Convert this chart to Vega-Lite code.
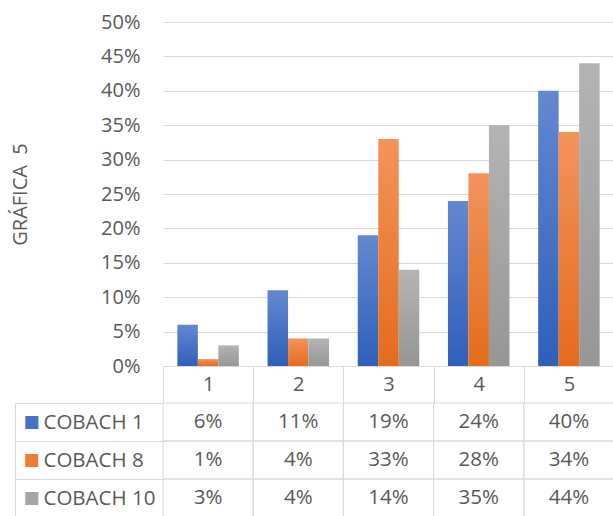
{
  "$schema": "https://vega.github.io/schema/vega-lite/v6.json",
  "padding": {"left": 10, "top": 12, "right": 0, "bottom": 0},
  "background": "white",
  "bounds": "flush",
  "spacing": 37,
  "config": {"view": {"stroke": null}, "font": "Open Sans"},
  "datasets": {
    "d": [
      {"cat": "1", "series": "COBACH 1", "value": 0.06},
      {"cat": "2", "series": "COBACH 1", "value": 0.11},
      {"cat": "3", "series": "COBACH 1", "value": 0.19},
      {"cat": "4", "series": "COBACH 1", "value": 0.24},
      {"cat": "5", "series": "COBACH 1", "value": 0.40},
      {"cat": "1", "series": "COBACH 8", "value": 0.01},
      {"cat": "2", "series": "COBACH 8", "value": 0.04},
      {"cat": "3", "series": "COBACH 8", "value": 0.33},
      {"cat": "4", "series": "COBACH 8", "value": 0.28},
      {"cat": "5", "series": "COBACH 8", "value": 0.34},
      {"cat": "1", "series": "COBACH 10", "value": 0.03},
      {"cat": "2", "series": "COBACH 10", "value": 0.04},
      {"cat": "3", "series": "COBACH 10", "value": 0.14},
      {"cat": "4", "series": "COBACH 10", "value": 0.35},
      {"cat": "5", "series": "COBACH 10", "value": 0.44}
    ]
  },
  "vconcat": [
    {
      "width": 451,
      "height": 344,
      "data": {"name": "d"},
      "encoding": {
        "x": {
          "field": "cat", "type": "nominal",
          "scale": {"paddingInner": 0, "paddingOuter": 0},
          "axis": {
            "orient": "bottom", "domain": true, "domainColor": "#d9d9d9",
            "ticks": true, "tickBand": "extent", "tickSize": 37, "tickColor": "#d9d9d9",
            "labelAngle": 0, "labelPadding": -19, "labelBaseline": "middle",
            "labelFontSize": 20, "labelColor": "#595959", "title": null, "grid": false
          }
        },
        "xOffset": {"field": "series", "type": "nominal", "scale": {"domain": ["COBACH 1", "COBACH 8", "COBACH 10"], "paddingInner": 0, "paddingOuter": 0.7}},
        "y": {
          "field": "value", "type": "quantitative",
          "scale": {"domain": [0, 0.5], "nice": false},
          "axis": {
            "orient": "left", "domain": false, "ticks": false, "grid": true, "gridColor": "#d9d9d9",
            "values": [0, 0.05, 0.1, 0.15, 0.2, 0.25, 0.3, 0.35, 0.4, 0.45, 0.5],
            "format": ".0%", "labelPadding": 23, "labelFontSize": 20, "labelColor": "#595959",
            "title": "GRÁFICA \u00a05", "titleFontSize": 20, "titleFontWeight": "normal",
            "titleColor": "#595959", "titlePadding": 70
          }
        }
      },
      "layer": [
        {
          "transform": [{"filter": "datum.series === 'COBACH 1'"}],
          "mark": {"type": "bar", "color": {"gradient": "linear", "x1": 0, "y1": 0, "x2": 0, "y2": 1,
            "stops": [{"offset": 0, "color": "#6388cf"}, {"offset": 1, "color": "#2f5fbb"}]}}
        },
        {
          "transform": [{"filter": "datum.series === 'COBACH 8'"}],
          "mark": {"type": "bar", "color": {"gradient": "linear", "x1": 0, "y1": 0, "x2": 0, "y2": 1,
            "stops": [{"offset": 0, "color": "#f3935c"}, {"offset": 1, "color": "#e46c1c"}]}}
        },
        {
          "transform": [{"filter": "datum.series === 'COBACH 10'"}],
          "mark": {"type": "bar", "color": {"gradient": "linear", "x1": 0, "y1": 0, "x2": 0, "y2": 1,
            "stops": [{"offset": 0, "color": "#b4b4b4"}, {"offset": 1, "color": "#969696"}]}}
        }
      ]
    },
    {
      "width": 451,
      "height": 114,
      "data": {"name": "d"},
      "encoding": {
        "x": {"field": "cat", "type": "nominal", "scale": {"paddingInner": 0, "paddingOuter": 0}, "axis": null}
      },
      "layer": [
        {
          "mark": {"type": "rect", "filled": false, "color": "#d9d9d9", "strokeWidth": 1},
          "encoding": {
            "y": {
              "field": "series", "type": "nominal",
              "scale": {"domain": ["COBACH 1", "COBACH 8", "COBACH 10"], "paddingInner": 0, "paddingOuter": 0},
              "axis": {
                "orient": "left", "offset": 148, "domain": true, "domainColor": "#d9d9d9",
                "ticks": false, "grid": false, "labelExpr": "'■'", "labelFont": "DejaVu Sans",
                "labelFontSize": 17, "labelAlign": "left", "labelPadding": -8,
                "labelColor": {"expr": "datum.value === 'COBACH 1' ? '#4472C4' : datum.value === 'COBACH 8' ? '#ED7D31' : '#A5A5A5'"},
                "title": null
              }
            }
          }
        },
        {
          "mark": {"type": "text", "color": "#595959", "fontSize": 20.5, "align": "center", "baseline": "middle"},
          "encoding": {
            "text": {"field": "value", "type": "quantitative", "format": ".0%"},
            "y": {
              "field": "series", "type": "nominal",
              "scale": {"domain": ["COBACH 1", "COBACH 8", "COBACH 10"], "paddingInner": 0, "paddingOuter": 0},
              "axis": {
                "orient": "left", "domain": false, "ticks": true, "tickBand": "extent", "tickSize": 148,
                "tickColor": "#d9d9d9", "grid": false, "labelAlign": "left", "labelPadding": -28,
                "labelFontSize": 20.5, "labelColor": "#595959", "title": null
              }
            }
          }
        }
      ],
      "resolve": {"axis": {"y": "independent"}}
    }
  ]
}
